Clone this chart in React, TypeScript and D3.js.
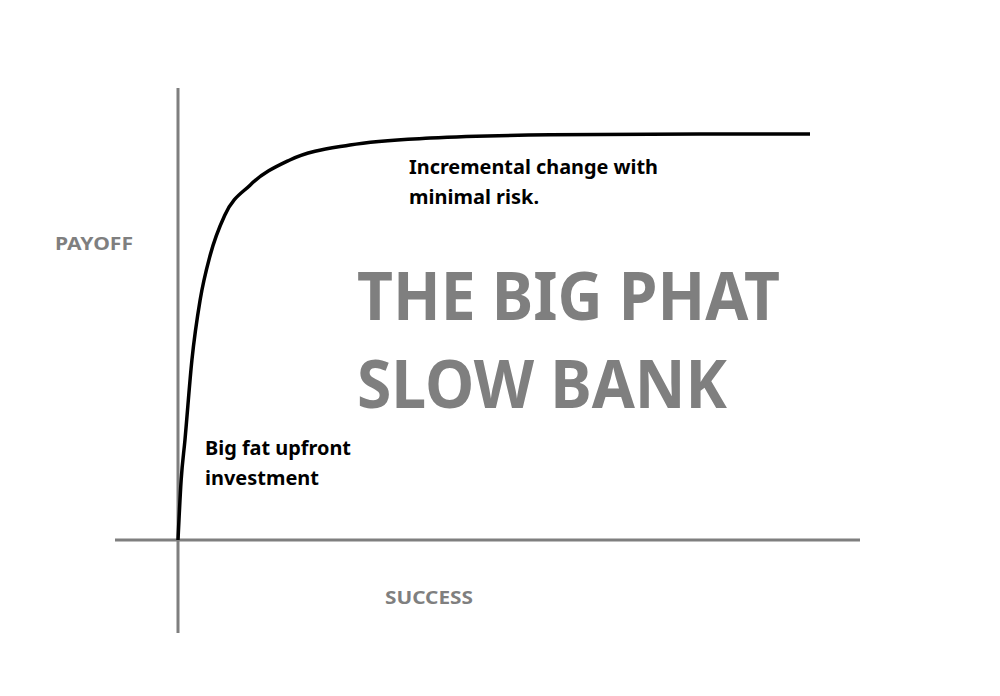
import React, { useEffect } from 'react';
import * as d3 from 'd3';

// success (0-100) vs payoff (0-100)
const success = [0, 0.5, 1.1, 2.2, 3.5, 5.1, 7.4, 11.4, 17.7, 27.2, 39.9, 58.9, 82.6, 100];
const payoff = [0, 14.8, 24.6, 44.3, 59.1, 70.2, 80, 87.4, 93.6, 97.3, 99, 99.8, 100, 100];

const W = 1000;
const H = 696;
const GRAY = '#7f7f7f';
const FONT = '"Noto Sans", "Open Sans", sans-serif';

const App = () => {
  useEffect(() => {
    document.body.style.margin = '0';
  }, []);

  const x = d3.scaleLinear().domain([0, 100]).range([178, 810]);
  const y = d3.scaleLinear().domain([0, 100]).range([540, 134]);
  const pts = success.map((s, i) => [s, payoff[i]] as [number, number]);
  const line = d3.line<[number, number]>()
    .x(d => x(d[0]))
    .y(d => y(d[1]))
    .curve(d3.curveMonotoneX);

  const txt = (t: string, tx: number, ty: number, size: number, len: number, fill: string) => (
    <text x={tx} y={ty} fontSize={size} fontWeight="bold" fill={fill} fontFamily={FONT}
      textLength={len} lengthAdjust="spacingAndGlyphs">{t}</text>
  );

  return (
    <svg width={W} height={H} style={{ display: 'block', background: '#fff' }}>
      <line x1={178} x2={178} y1={88} y2={633} stroke={GRAY} strokeWidth={3} />
      <line x1={115} x2={860} y1={540} y2={540} stroke={GRAY} strokeWidth={3} />
      <path d={line(pts) || ''} fill="none" stroke="#000" strokeWidth={3.5} />
      {txt('PAYOFF', 55, 250, 18, 78, GRAY)}
      {txt('SUCCESS', 385, 604, 18, 88, GRAY)}
      {txt('Incremental change with', 409, 174, 19, 249, '#000')}
      {txt('minimal risk.', 409, 204, 19, 130, '#000')}
      {txt('Big fat upfront', 205, 455, 19, 146, '#000')}
      {txt('investment', 205, 485, 19, 114, '#000')}
      {txt('THE BIG PHAT', 357, 320, 66, 423, GRAY)}
      {txt('SLOW BANK', 357, 408, 66, 370, GRAY)}
    </svg>
  );
};

export default App;
